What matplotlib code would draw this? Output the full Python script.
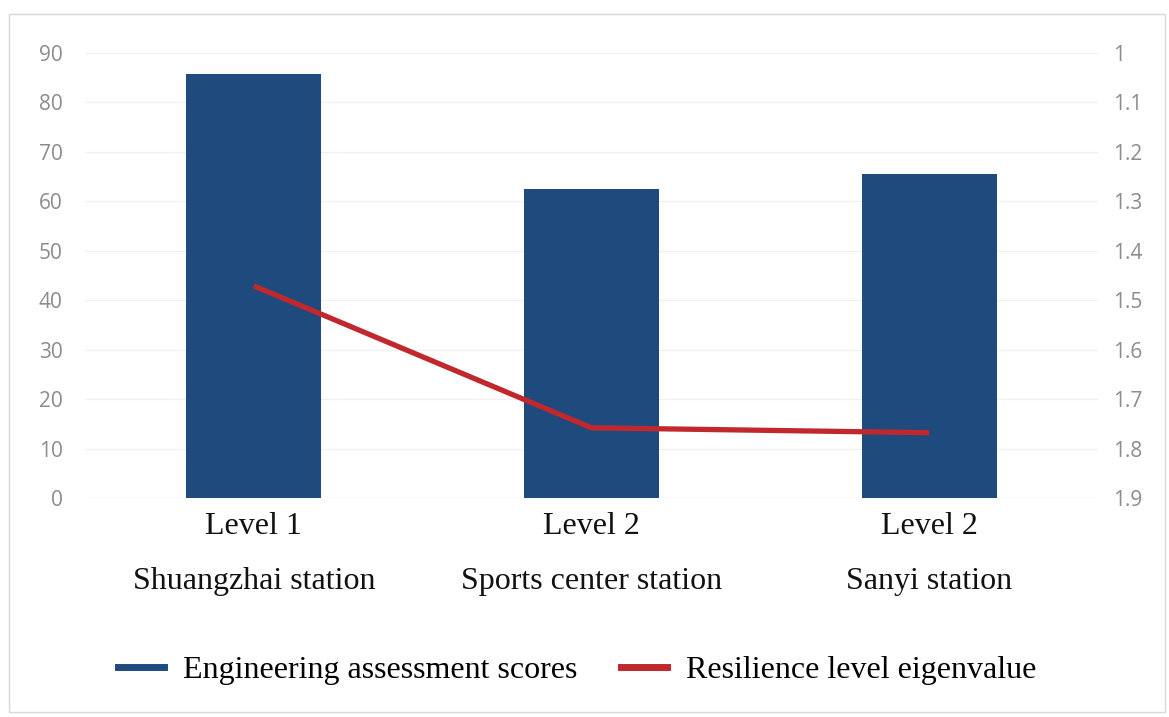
import matplotlib.pyplot as plt
import matplotlib.transforms as mtransforms

# Data
stations = ["Shuangzhai station", "Sports center station", "Sanyi station"]
levels = ["Level 1", "Level 2", "Level 2"]
scores = [85.8, 62.5, 65.6]
eigenvalues = [1.471, 1.758, 1.768]

left_ticks = [0, 10, 20, 30, 40, 50, 60, 70, 80, 90]
right_ticks = [1, 1.1, 1.2, 1.3, 1.4, 1.5, 1.6, 1.7, 1.8, 1.9]
right_labels = ["1", "1.1", "1.2", "1.3", "1.4", "1.5", "1.6", "1.7", "1.8", "1.9"]

bar_color = "#1f4a7e"
line_color = "#c0282d"
tick_gray = "#8c8c8c"
serif = "Liberation Serif"

fig = plt.figure(figsize=(11.69, 7.17), dpi=100)

# light border around the chart area
border = plt.Rectangle((9 / 1169, 5 / 717), 1156 / 1169, 698 / 717,
                       transform=fig.transFigure, fill=False,
                       edgecolor="#d9d9d9", linewidth=1)
fig.patches.append(border)

ax = fig.add_axes([85 / 1169, 219 / 717, 1013 / 1169, 445 / 717])
x = list(range(len(stations)))

ax.bar(x, scores, width=0.4, color=bar_color, zorder=2)
ax.set_xlim(-0.5, 2.5)
ax.set_ylim(0, 90)
ax.set_yticks(left_ticks)
ax.set_xticks([])
ax.grid(axis="y", color="#f0f0f0", linewidth=1, zorder=0)
for s in ax.spines.values():
    s.set_visible(False)
ax.tick_params(axis="y", length=0, pad=16, labelsize=15, labelcolor=tick_gray)
for lab in ax.get_yticklabels():
    lab.set_fontfamily("Open Sans")

ax2 = ax.twinx()
ax2.plot(x, eigenvalues, color=line_color, linewidth=3.8, solid_capstyle="butt", zorder=3)
ax2.set_ylim(1.9, 1.0)
ax2.set_yticks(right_ticks)
ax2.set_yticklabels(right_labels)
for s in ax2.spines.values():
    s.set_visible(False)
ax2.tick_params(axis="y", length=0, pad=11, labelsize=15, labelcolor=tick_gray)
for lab in ax2.get_yticklabels():
    lab.set_fontfamily("Open Sans")
    lab.set_horizontalalignment("left")

# two-line category labels under the bars
trans = mtransforms.blended_transform_factory(ax.transData, fig.transFigure)
for i in x:
    ax.text(i, 1 - 527 / 717, levels[i], transform=trans, ha="center", va="center",
            fontsize=23, family=serif, color="#111111")
    ax.text(i, 1 - 582 / 717, stations[i], transform=trans, ha="center", va="center",
            fontsize=23, family=serif, color="#111111")

# legend
h1 = plt.Line2D([], [], color=bar_color, linewidth=5)
h2 = plt.Line2D([], [], color=line_color, linewidth=5)
fig.legend([h1, h2], ["Engineering assessment scores", "Resilience level eigenvalue"],
           loc="center", bbox_to_anchor=(577 / 1169, 1 - 670 / 717), ncol=2,
           frameon=False, prop={"family": serif, "size": 23},
           handlelength=1.45, handletextpad=0.6, columnspacing=1.35)

fig.savefig("out.png", dpi=100)
